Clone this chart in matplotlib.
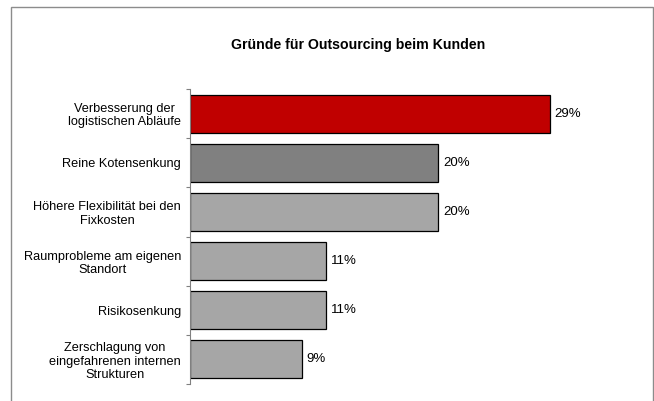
"""Horizontal bar chart: reasons for outsourcing on the customer side."""
import matplotlib
matplotlib.use("Agg")
import matplotlib.pyplot as plt
from matplotlib.patches import Rectangle

plt.rcParams["font.family"] = ["Liberation Sans", "DejaVu Sans"]

# Data
categories = [
    "Verbesserung der\nlogistischen Abläufe",
    "Reine Kotensenkung",
    "Höhere Flexibilität bei den\nFixkosten",
    "Raumprobleme am eigenen\nStandort",
    "Risikosenkung",
    "Zerschlagung von\neingefahrenen internen\nStrukturen",
]
values = [29, 20, 20, 11, 11, 9]
value_labels = ["29%", "20%", "20%", "11%", "11%", "9%"]
colors = ["#C00000", "#808080", "#A6A6A6", "#A6A6A6", "#A6A6A6", "#A6A6A6"]

W, H = 654, 401
fig = plt.figure(figsize=(W / 100, H / 100), dpi=100)

# outer chart frame (runs off the bottom edge)
fig.patches.append(Rectangle((11 / W, -0.05), 642 / W, 1.05 - 7 / H,
                             transform=fig.transFigure, fill=False,
                             edgecolor="#8C8C8C", linewidth=1.0))

ax = fig.add_axes([190 / W, (H - 384) / H, 434 / W, 295 / H])

pos = list(range(len(categories)))
ax.barh(pos, values, height=0.77, color=colors, edgecolor="black", linewidth=0.9)

for p, v, lab in zip(pos, values, value_labels):
    ax.annotate(lab, (v, p), xytext=(3.5, 0), textcoords="offset points",
                ha="left", va="center", fontsize=9.5)

ax.set_xlim(0, 35)
ax.set_ylim(len(categories) - 0.5, -0.5)

ax.set_yticks(pos)
ax.set_yticklabels(categories, fontsize=9.2, multialignment="center", linespacing=1.15)
ax.set_yticks([i - 0.5 for i in range(len(categories) + 1)], minor=True)
ax.tick_params(axis="y", which="major", length=0, pad=6.5)
ax.tick_params(axis="y", which="minor", length=3, width=0.8, color="#808080", direction="out")
ax.set_xticks([])

for side in ("top", "right", "bottom"):
    ax.spines[side].set_visible(False)
ax.spines["left"].set_color("#808080")
ax.spines["left"].set_linewidth(0.8)

fig.text(358 / W, 1 - 45 / H, "Gründe für Outsourcing beim Kunden",
         ha="center", va="center", fontsize=10.2, fontweight="bold")

fig.savefig("out.png", dpi=100)
